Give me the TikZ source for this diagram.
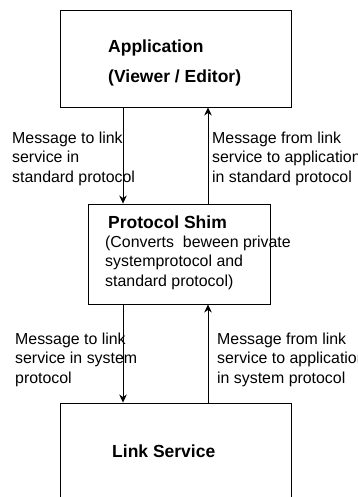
\documentclass[tikz,border=0pt]{standalone}
\usepackage{fontspec}
\setmainfont{Liberation Sans}
\usetikzlibrary{arrows.meta}
\tikzset{
  box/.style={draw=black, line width=0.9pt, rectangle, inner sep=0pt},
  title/.style={anchor=base west, inner sep=0pt, font=\fontsize{17.5}{19}\selectfont\bfseries},
  % multi-line notes are placed by the baseline of their last line
  note/.style={anchor=base west, inner sep=0pt, align=left,
               font=\fontsize{15.9}{19.3}\selectfont},
  flow/.style={line width=0.8pt, -{Stealth[length=8pt,width=7.5pt,inset=2.5pt]}}
}
\begin{document}
\begin{tikzpicture}[x=1pt,y=-1pt]
  \useasboundingbox (0,0) rectangle (357,497);
  \clip (0,0) rectangle (357,497);

  % the three layers
  \node[box, minimum width=231pt, minimum height=97pt] (app) at (175.5,58.5) {};
  \node[box, minimum width=182pt, minimum height=100pt] (shim) at (179,254) {};
  \node[box, minimum width=231pt, minimum height=117pt] (link) at (175.5,461.5) {};

  % box captions
  \node[title] (appname) at (108,53) {Application};
  \node[title] (appsub) at (108,83) {(Viewer / Editor)};
  \node[title] (shimname) at (108,228) {Protocol Shim};
  \node[note] (shimtext) at (105,286)
    {(Converts\ \ beween private\\systemprotocol and\\standard protocol)};
  \node[title] (linkname) at (112,457) {Link Service};

  % vertical positions of the two message channels
  \coordinate (down) at (123,0);
  \coordinate (up) at (208,0);

  \draw[flow] (down |- app.south) -- (down |- shim.north);
  \draw[flow] (up |- shim.north) -- (up |- app.south);
  \draw[flow] (down |- shim.south) -- (down |- link.north);
  \draw[flow] (up |- link.north) -- (up |- shim.south);

  % channel labels
  \node[note] (m1) at (12,182)
    {Message to link\\service in\\standard protocol};
  \node[note] (m2) at (212,182)
    {Message from link\\service to application\\in standard protocol};
  \node[note] (m3) at (15,383)
    {Message to link\\service in system\\protocol};
  \node[note] (m4) at (217,383)
    {Message from link\\service to application\\in system protocol};
\end{tikzpicture}
\end{document}
